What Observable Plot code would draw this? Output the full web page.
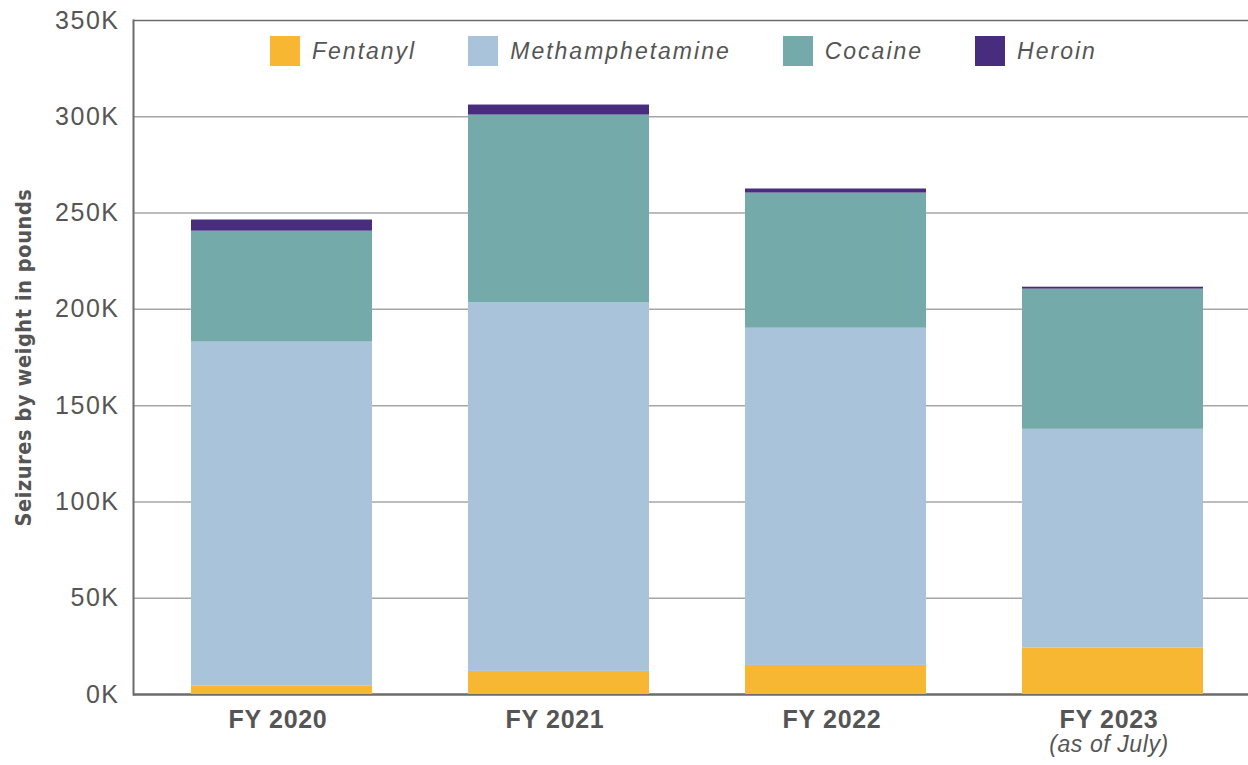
<!DOCTYPE html>
<html>
<head>
<meta charset="utf-8">
<script src="https://cdn.jsdelivr.net/npm/d3@7"></script>
<script src="https://cdn.jsdelivr.net/npm/@observablehq/plot@0.6"></script>
<style>
  html, body { margin: 0; padding: 0; background: #fff; }
  #wrap { position: relative; width: 1248px; height: 765px; }
  #legend { position: absolute; left: 270px; top: 36px; display: flex; align-items: center;
            font-family: "Liberation Sans", Arial, sans-serif; font-style: italic; font-size: 23px;
            letter-spacing: 2px; color: #555; }
  #legend .item { display: flex; align-items: center; margin-right: 52px; }
  #legend .sw { width: 30px; height: 30px; margin-right: 12px; }
</style>
</head>
<body>
<div id="wrap">
  <div id="chart"></div>
  <div id="legend"></div>
</div>
<script>
const years = ["FY 2020", "FY 2021", "FY 2022", "FY 2023"];
const drugs = ["Fentanyl", "Methamphetamine", "Cocaine", "Heroin"];
const colors = ["#F7B733", "#A9C3DB", "#74ABAA", "#482C7E"];
const fentanyl = [4500, 12000, 15100, 24100];
const methamphetamine = [178500, 191400, 175100, 113600];
const cocaine = [57600, 97500, 70200, 72800];
const heroin = [5800, 5200, 2100, 1000];
const yTicks = [0, 50000, 100000, 150000, 200000, 250000, 300000, 350000];
const notes = [{year: "FY 2023", note: "(as of July)"}];

const series = [fentanyl, methamphetamine, cocaine, heroin];
const rows = [];
years.forEach((y, i) => drugs.forEach((d, j) => rows.push({year: y, drug: d, value: series[j][i]})));

const plot = Plot.plot({
  width: 1248,
  height: 765,
  marginLeft: 133,
  marginRight: 0,
  marginTop: 20,
  marginBottom: 71,
  x: {domain: years, range: [133, 1260], paddingInner: 0.348, paddingOuter: 0.2045, label: null},
  y: {domain: [0, 350000], label: null},
  color: {domain: drugs, range: colors},
  style: {background: "#fff"},
  marks: [
    Plot.gridY(yTicks.filter(d => d > 0 && d < 350000), {stroke: "#a6a6a6", strokeWidth: 1.5, strokeOpacity: 1}),
    Plot.ruleY([350000], {stroke: "#6b6b6b", strokeWidth: 1.5}),
    Plot.ruleY([0], {stroke: "#6b6b6b", strokeWidth: 2.5}),
    Plot.frame({anchor: "left", stroke: "#6b6b6b", strokeWidth: 2}),
    Plot.barY(rows, {x: "year", y: "value", fill: "drug", order: drugs}),
    Plot.axisY({ticks: yTicks, tickSize: 0, tickPadding: 14, tickFormat: d => (d / 1000) + "K",
      fontSize: 25, fill: "#555", fontFamily: "Liberation Sans, Arial, sans-serif",
      label: null}),
    Plot.axisX({tickSize: 0, tickPadding: 16, fontSize: 25, fontWeight: "bold", fill: "#555", dx: -4,
      fontFamily: "Liberation Sans, Arial, sans-serif", label: null}),
    Plot.text(notes, {x: "year", text: "note", frameAnchor: "bottom", dy: 57, dx: -4, fontSize: 23,
      fontStyle: "italic", fill: "#555", fontFamily: "Liberation Sans, Arial, sans-serif"}),
    Plot.text(["Seizures by weight in pounds"], {frameAnchor: "left", dx: -109, dy: 0, rotate: -90,
      textAnchor: "middle", fontSize: 21.5, fontWeight: "bold", fill: "#555",
      fontFamily: "DejaVu Sans Condensed, DejaVu Sans, sans-serif"})
  ]
});
document.getElementById("chart").appendChild(plot);
d3.select(plot).selectAll('g[aria-label="y-axis tick label"]').attr("letter-spacing", "1.5px");
d3.select(plot).selectAll('g[aria-label="x-axis tick label"]').attr("letter-spacing", "0.7px");
d3.select(plot).selectAll('g[aria-label="text"]').attr("letter-spacing", "0.6px");

const legend = document.getElementById("legend");
drugs.forEach((d, i) => {
  const item = document.createElement("div");
  item.className = "item";
  const sw = document.createElement("div");
  sw.className = "sw";
  sw.style.background = colors[i];
  const t = document.createElement("span");
  t.textContent = d;
  item.appendChild(sw);
  item.appendChild(t);
  legend.appendChild(item);
});
</script>
</body>
</html>
